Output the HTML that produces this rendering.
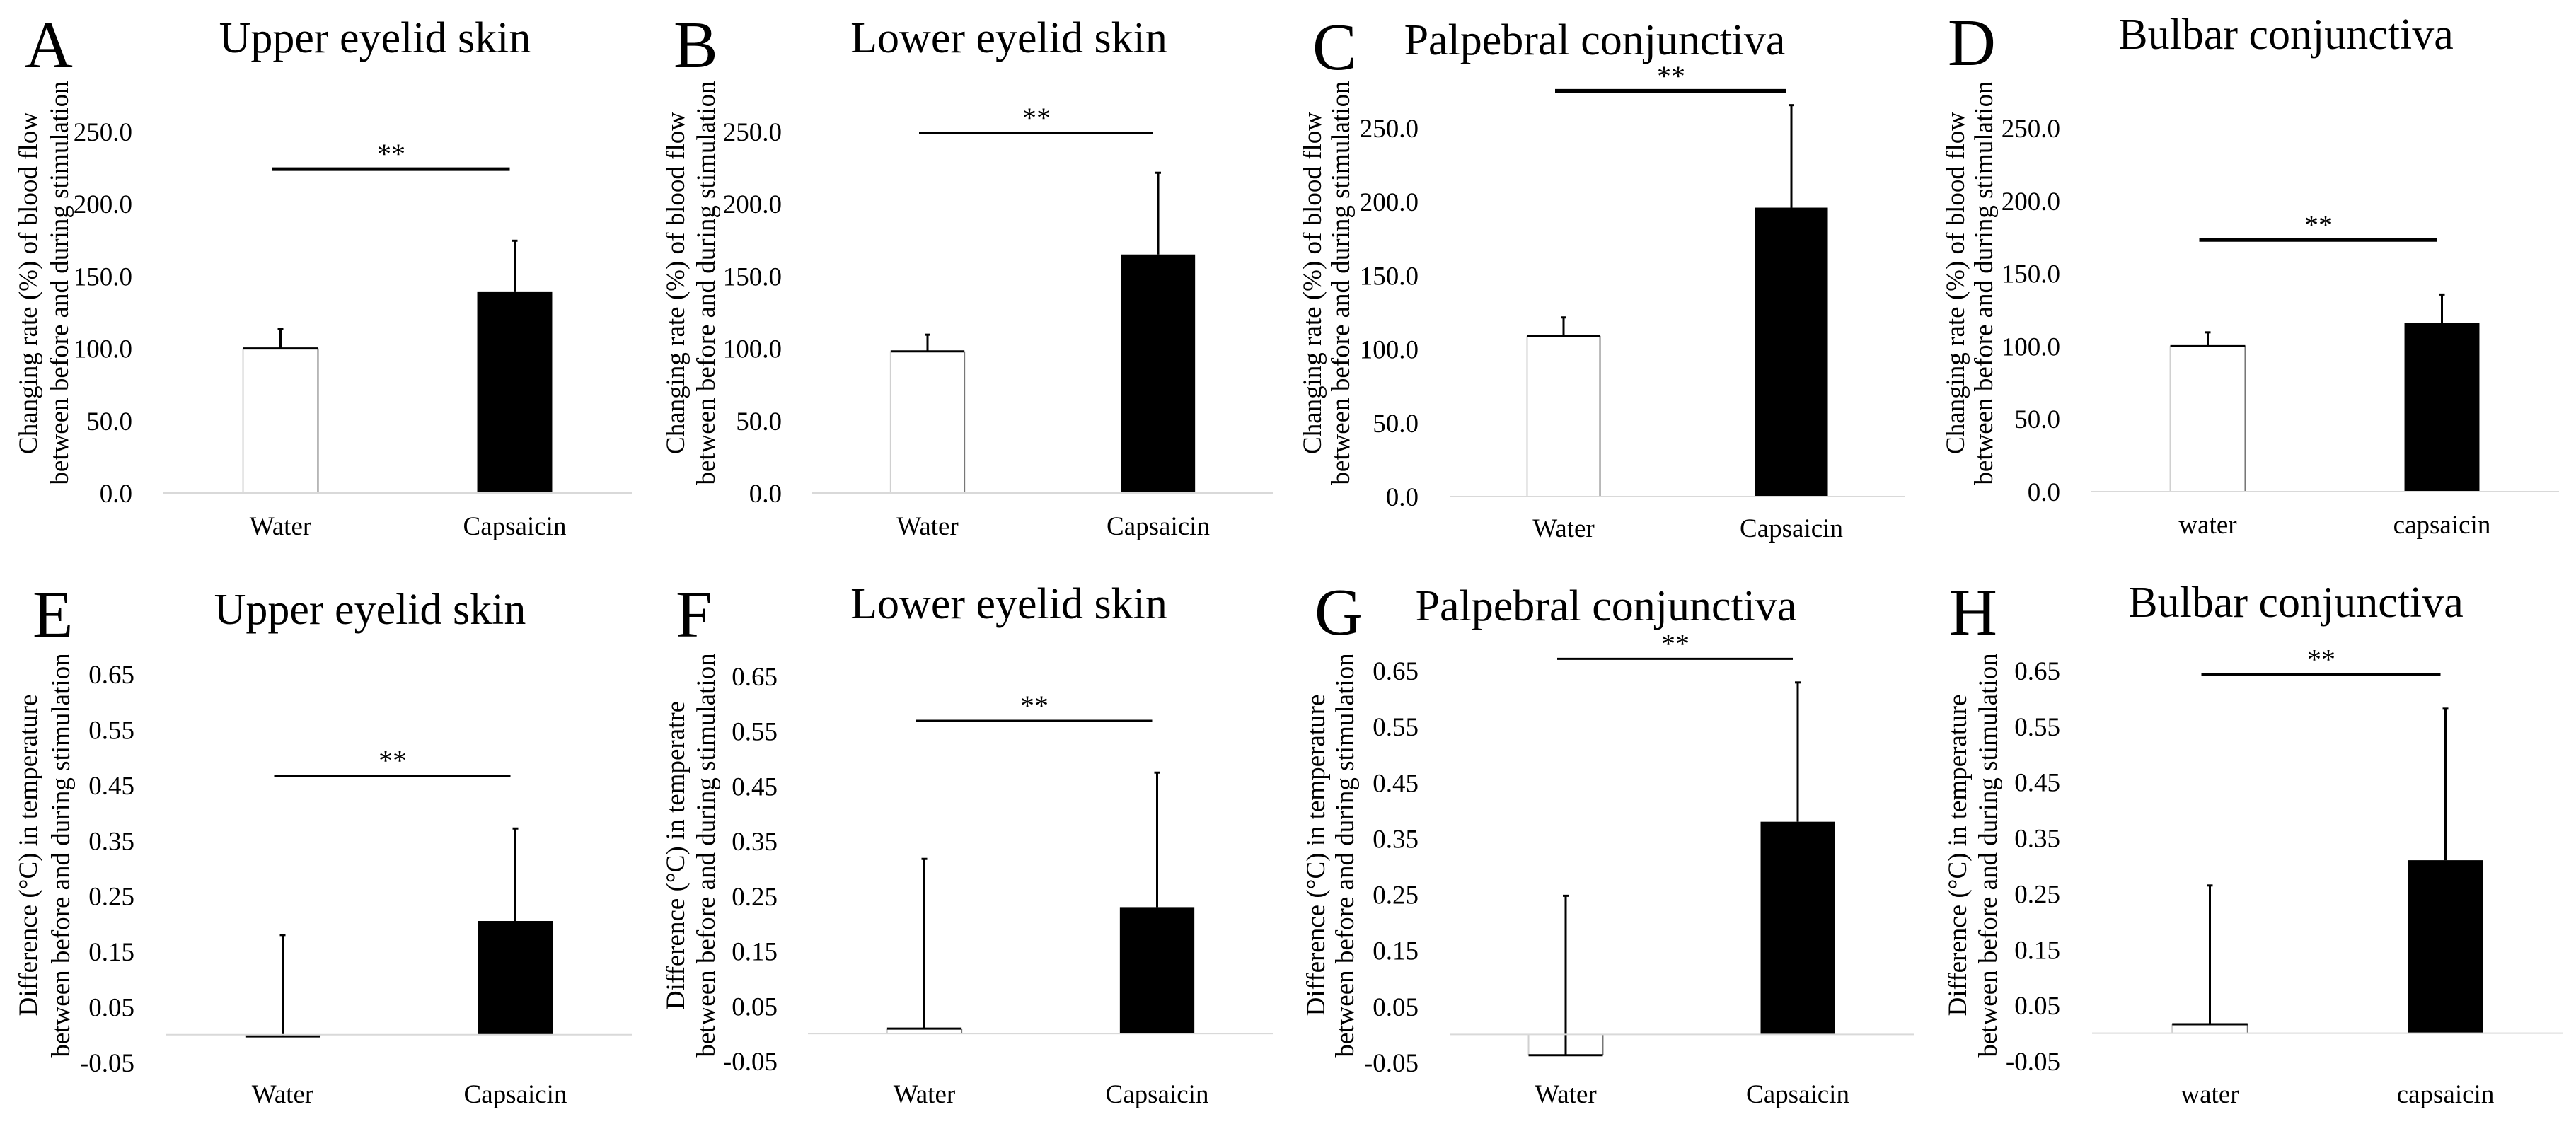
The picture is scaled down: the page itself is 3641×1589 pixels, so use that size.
<!DOCTYPE html>
<html><head><meta charset="utf-8">
<style>
html,body{margin:0;padding:0;background:#fff;}
svg{display:block;}
text{font-family:"Liberation Serif",serif;fill:#000;}
</style></head>
<body>
<svg id="fig" xmlns="http://www.w3.org/2000/svg" width="3641" height="1589" viewBox="0 0 3641 1589"></svg>
<script>
// ---- data ----
const panelLetters = ["A","B","C","D","E","F","G","H"];
const panelTitles = ["Upper eyelid skin","Lower eyelid skin","Palpebral conjunctiva","Bulbar conjunctiva","Upper eyelid skin","Lower eyelid skin","Palpebral conjunctiva","Bulbar conjunctiva"];
const categoriesUpper = ["Water","Capsaicin"];
const categoriesLower = ["water","capsaicin"];
const flowMeans = [[100,139],[98,165],[109,196],[100,116]];
const flowSD = [[14,36],[12,57],[13,70],[10,20]];
const flowSig = [224,249,275,173];
const flowTicks = [0,50,100,150,200,250];
const flowTickLabels = ["0.0","50.0","100.0","150.0","200.0","250.0"];
const tempMeans = [[-0.003,0.205],[0.009,0.230],[-0.037,0.380],[0.016,0.310]];
const tempSD = [[0.184,0.168],[0.310,0.246],[0.286,0.250],[0.250,0.273]];
const tempSig = [0.467,0.569,0.671,0.643];
const tempTicks = [-0.05,0.05,0.15,0.25,0.35,0.45,0.55,0.65];
const tempTickLabels = ["-0.05","0.05","0.15","0.25","0.35","0.45","0.55","0.65"];
const flowTitle = ["Changing rate (%) of blood flow","between before and during stimulation"];
const tempTitleA = ["Difference (°C) in temperature","between before and during stimulation"];
const tempTitleF = ["Difference (°C) in temperatre","between before and during stimulation"];

// ---- layout (pixels) ----
const layout = [
 {x0:231,x1:893,pTop:186,pBot:697,tickR:187,yt:[40,84],yc:400,lx:35,ly:95,tc:530,tb:74,sw:5,lab:756},
 {x0:1148,x1:1800,pTop:186,pBot:697,tickR:1105,yt:[955,998],yc:400,lx:952,ly:95,tc:1426,tb:74,sw:4,lab:756},
 {x0:2049,x1:2693,pTop:181,pBot:702,tickR:2005,yt:[1855,1895],yc:400,lx:1855,ly:98,tc:2254,tb:77,sw:6,lab:759},
 {x0:2955,x1:3617,pTop:181,pBot:695,tickR:2912,yt:[2764,2804],yc:400,lx:2753,ly:92,tc:3231,tb:69,sw:5,lab:754},
 {x0:235,x1:893,pTop:953,pBot:1502,tickR:190,yt:[40,86],yc:1209,lx:46,ly:900,tc:523,tb:882,sw:3,lab:1559},
 {x0:1142,x1:1800,pTop:956,pBot:1500,tickR:1099,yt:[955,998],yc:1209,lx:955,ly:900,tc:1426,tb:874,sw:3,lab:1559},
 {x0:2049,x1:2705,pTop:948,pBot:1502,tickR:2005,yt:[1860,1901],yc:1209,lx:1858,ly:897,tc:2270,tb:877,sw:3,lab:1559},
 {x0:2957,x1:3623,pTop:948,pBot:1500,tickR:2912,yt:[2767,2810],yc:1209,lx:2755,ly:897,tc:3245,tb:872,sw:5,lab:1559}
];

const NS="http://www.w3.org/2000/svg";
const svg=document.getElementById('fig');
function mk(tag,attrs,parent,txt){const e=document.createElementNS(NS,tag);for(const k in attrs)e.setAttribute(k,attrs[k]);if(txt!==undefined)e.textContent=txt;(parent||svg).appendChild(e);return e;}

for(let p=0;p<8;p++){
  const L=layout[p];
  const isFlow=p<4;
  const ticks=isFlow?flowTicks:tempTicks;
  const tlabels=isFlow?flowTickLabels:tempTickLabels;
  const means=isFlow?flowMeans[p]:tempMeans[p-4];
  const sds=isFlow?flowSD[p]:tempSD[p-4];
  const sig=isFlow?flowSig[p]:tempSig[p-4];
  const cats=(p===3||p===7)?categoriesLower:categoriesUpper;
  const vMin=ticks[0], vMax=ticks[ticks.length-1];
  const y=v=>L.pBot+(v-vMin)/(vMax-vMin)*(L.pTop-L.pBot);
  const band=(L.x1-L.x0)/2;
  const cx=i=>L.x0+(i+0.5)*band;
  const bw=band*0.32;

  const g=mk('g',{});
  
  

  const lt=mk('text',{x:L.lx,y:L.ly,'font-size':94},g,panelLetters[p]);
  
  
  const tt=mk('text',{x:L.tc,y:L.tb,'font-size':62,'text-anchor':'middle'},g,panelTitles[p]);
  
  

  const ytl=isFlow?flowTitle:(p===5?tempTitleF:tempTitleA);
  for(let k=0;k<2;k++){
    const bx=L.yt[k]+12;
    const t=mk('text',{x:0,y:0,'font-size':37,'text-anchor':'middle',transform:`translate(${bx},${L.yc}) rotate(-90)`},g,ytl[k]);
    
    
  }
  ticks.forEach((v,i)=>{
    const t=mk('text',{x:L.tickR,y:y(v)+13,'font-size':37,'text-anchor':'end'},g,tlabels[i]);
    
    
  });
  const y0=y(0);
  for(let i=0;i<2;i++){
    const top=y(means[i]);
    const x=cx(i)-bw/2;
    const ry=Math.min(top,y0), rh=Math.max(Math.abs(y0-top),0.5);
    let bar;
    if(i===1){
      bar=mk('rect',{x:x,y:ry,width:bw,height:rh,fill:'#000'},g);
    } else {
      bar=mk('g',{},g);
      mk('rect',{x:x,y:ry,width:bw,height:rh,fill:'#fff'},bar);
      mk('line',{x1:x,y1:y0,x2:x,y2:top,stroke:'#d0d0d0','stroke-width':2},bar);
      mk('line',{x1:x+bw,y1:y0,x2:x+bw,y2:top,stroke:'#777','stroke-width':2},bar);
      mk('line',{x1:x,y1:top,x2:x+bw,y2:top,stroke:'#000','stroke-width':3},bar);
    }
    
    
    const eTop=y(means[i]+sds[i]);
    const eb=mk('g',{},g);
    mk('line',{x1:cx(i),y1:top,x2:cx(i),y2:eTop,stroke:'#000','stroke-width':3},eb);
    mk('line',{x1:cx(i)-4,y1:eTop+1,x2:cx(i)+4,y2:eTop+1,stroke:'#000','stroke-width':3},eb);
    
    
    const xl=mk('text',{x:cx(i),y:L.lab,'font-size':37,'text-anchor':'middle'},g,cats[i]);
    
    
  }
  const ax=mk('line',{x1:L.x0,y1:y0,x2:L.x1,y2:y0,stroke:'#d9d9d9','stroke-width':2},g);
  
  
  const sy=y(sig);
  const sl=mk('line',{x1:cx(0)-12,y1:sy,x2:cx(1)-7,y2:sy,stroke:'#000','stroke-width':L.sw},g);
  
  
  const st=mk('text',{x:(cx(0)+cx(1))/2-9,y:sy-8,'font-size':40,'text-anchor':'middle'},g,'**');
  
  
}
</script>
</body></html>
